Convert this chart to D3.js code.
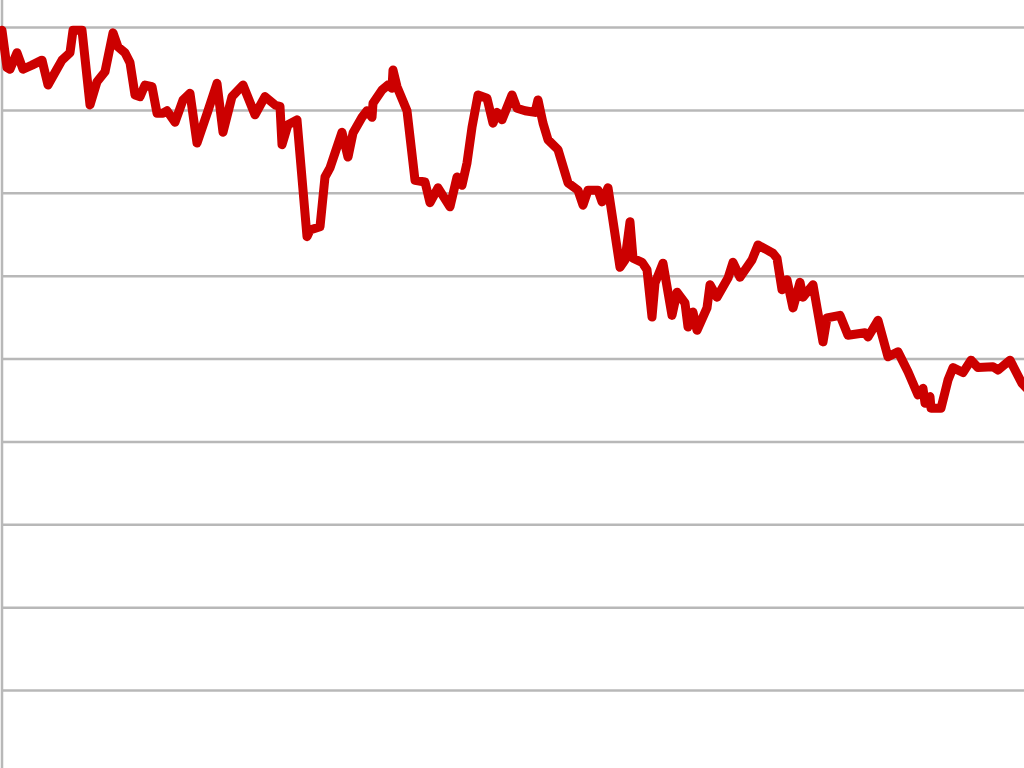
<!DOCTYPE html>
<html>
<head>
<meta charset="utf-8">
<script src="https://cdn.jsdelivr.net/npm/d3@7"></script>
<style>
    html, body { margin: 0; padding: 0; background: #fff; overflow: hidden; }
    .grid line { stroke: #b8b8b8; stroke-width: 2.5; }
    .grid path { display: none; }
</style>
</head>
<body>
<div id="chart"></div>
<script>
// week number of each reading
const weeks = [0, 1.25, 2, 3.75, 5.25, 7.5, 10, 11.5, 13.25, 15, 17, 17.75, 20, 22, 23.75, 25.75, 27.75, 29, 30.75, 32,
    33.25, 34.5, 35.75, 37.5, 38.75, 40.25, 41.25, 43.25, 45.25, 47, 48.75, 51.5, 53.75, 55.25, 57.5, 60.25, 63.25, 65.75, 68.25, 69.5,
    70, 71.5, 73.75, 76.25, 77, 79.5, 80.75, 82, 83.25, 85, 86.5, 87.75, 90, 91.25, 92.5, 92.75, 95, 96.5, 97.5, 97.75,
    98.75, 101.25, 103.25, 105.75, 107, 109, 112, 113.75, 115, 116.25, 117.5, 119, 121.25, 122.75, 123.75, 125, 127.5, 128.75, 130.75, 133.25,
    134, 135.25, 136.5, 139, 140.75, 141.5, 144, 145.25, 146.5, 149, 150, 151.5, 154.5, 155.75, 157, 157.75, 160, 161.25, 162.5, 163.25,
    165.25, 167.5, 168.75, 170.75, 171.5, 172.75, 173.75, 176.25, 177, 178.75, 181.5, 182.75, 184.5, 187.5, 189, 192.75, 193.75, 195, 196.25, 197.75,
    199.5, 200.25, 202.75, 205.25, 206.25, 209.5, 211.5, 215.75, 216.5, 219, 221.5, 224, 226.5, 229, 230.25, 230.75, 232, 232.25, 234.75, 236.5,
    237.75, 240.25, 242.25, 244, 247.75, 249, 252, 255, 257];

// index level at each reading
const values = [79.6, 75.1, 74.9, 76.9, 74.9, 75.4, 76.0, 73.0, 74.5, 76.0, 76.9, 79.6, 79.6, 70.6, 73.4, 74.6, 79.3, 77.6, 76.9, 75.7,
    71.8, 71.6, 73.0, 72.8, 69.6, 69.6, 69.9, 68.5, 71.2, 72.0, 66.0, 69.9, 73.2, 67.3, 71.6, 73.0, 69.4, 71.6, 70.6, 70.4,
    65.8, 68.2, 68.8, 54.7, 55.5, 55.9, 61.9, 63.0, 64.8, 67.3, 64.3, 67.2, 69.1, 69.9, 69.1, 70.8, 72.4, 73.0, 72.6, 74.8,
    72.8, 69.9, 61.5, 61.3, 58.8, 60.6, 58.3, 61.9, 60.9, 63.6, 67.9, 71.8, 71.4, 68.4, 69.7, 68.8, 71.8, 70.2, 69.9, 69.7,
    71.2, 68.4, 66.4, 65.2, 62.4, 61.2, 60.3, 58.5, 60.3, 60.3, 58.9, 60.6, 51.0, 51.9, 56.5, 52.1, 51.6, 50.7, 45.0, 49.1,
    51.5, 45.2, 48.0, 46.7, 43.8, 45.6, 43.4, 46.1, 48.9, 47.4, 49.7, 51.6, 49.8, 51.9, 53.7, 52.7, 52.1, 48.3, 49.5, 46.1,
    49.2, 47.4, 48.9, 42.0, 44.9, 45.2, 42.8, 43.1, 42.6, 44.6, 40.2, 40.8, 38.4, 35.6, 36.4, 34.6, 35.4, 34.0, 34.0, 37.4,
    38.9, 38.3, 39.8, 38.9, 39.0, 38.6, 39.8, 37.0, 36.0];

const gridValues = [-10, 0, 10, 20, 30, 40, 50, 60, 70, 80];

const width = 1024;
const height = 768;

const svg = d3.select("#chart").append("svg")
    .attr("width", width)
    .attr("height", height);

const x = d3.scaleLinear()
    .domain([0, 255])
    .range([2, 1022]);

const y = d3.scaleLinear()
    .domain([0, 80])
    .range([690, 27]);

// horizontal gridlines
svg.append("g")
    .attr("class", "grid")
    .attr("transform", "translate(2, 0)")
    .call(d3.axisLeft(y)
        .tickValues(gridValues)
        .tickSize(-width)
        .tickFormat(""));

// left axis line
svg.append("line")
    .attr("x1", x(0))
    .attr("x2", x(0))
    .attr("y1", 0)
    .attr("y2", height)
    .style("stroke", "#b8b8b8")
    .style("stroke-width", 2.5);

const data = weeks.map((w, i) => ({week: w, value: values[i]}));

const line = d3.line()
    .x(d => x(d.week))
    .y(d => y(d.value));

svg.append("path")
    .datum(data)
    .attr("d", line)
    .style("fill", "none")
    .style("stroke", "#cc0000")
    .style("stroke-width", 9)
    .style("stroke-linejoin", "round")
    .style("stroke-linecap", "round");
</script>
</body>
</html>
